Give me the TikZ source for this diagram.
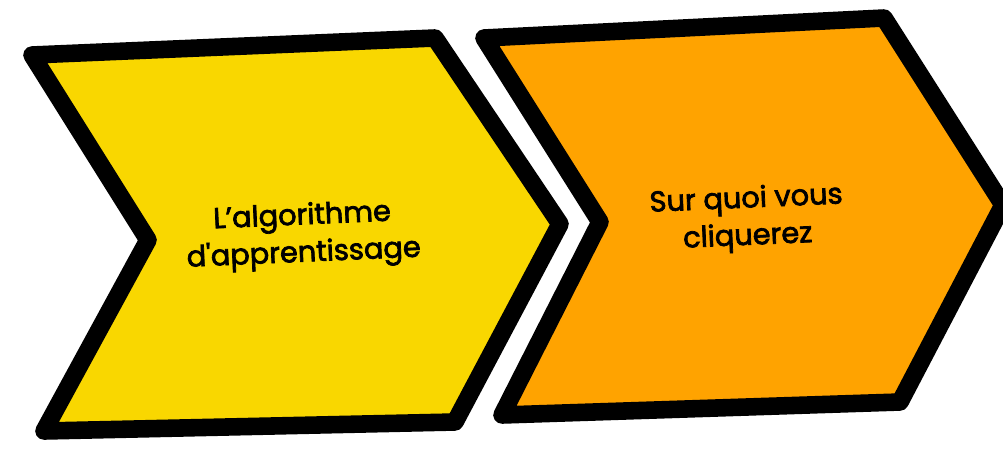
\documentclass[tikz,border=0pt]{standalone}
\usepackage{fontspec}
\setmainfont{Poppins}
\newfontfamily\chevfont{Poppins}[FakeBold=2.5,Ligatures=ResetAll]
\usepackage{xcolor}
\definecolor{chevyellow}{RGB}{249,215,0}
\definecolor{chevorange}{RGB}{255,163,0}
\tikzset{
  chevron/.style={draw=black,line width=12.5pt,line join=round},
  chevtext/.style={font=\chevfont\fontsize{20.5}{26.5}\selectfont,align=center,rotate=2.5}
}

\begin{document}
\begin{tikzpicture}[x=0.025cm,y=-0.025cm]
    \useasboundingbox (0,0) rectangle (1003,448);
    % first step
    \filldraw[chevron,fill=chevyellow]
      (32,55) -- (435,38) -- (560,224) -- (455,422) -- (44,431) -- (148,240) -- cycle;
    % second step
    \filldraw[chevron,fill=chevorange]
      (484,38) -- (884,18) -- (1003,205) -- (900,402) -- (502,415) -- (600,222) -- cycle;
    \node[chevtext] (algo) at (303,236) {L’algorithme\\d'apprentissage};
    \node[chevtext] (clic) at (747,219) {Sur quoi vous\\cliquerez};
  \end{tikzpicture}
\end{document}
